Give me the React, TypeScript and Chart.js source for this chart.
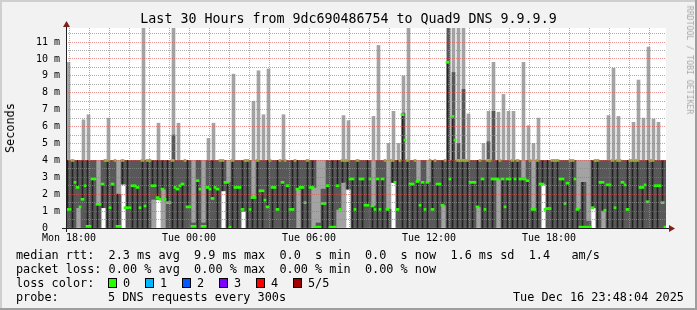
import React, { useEffect, useRef } from "react";
import { Chart, registerables } from "chart.js";

Chart.register(...registerables);

// ---------- text ----------
const TITLE = "Last 30 Hours from 9dc690486754 to Quad9 DNS 9.9.9.9";
const Y_AXIS_TITLE = "Seconds";
const WATERMARK = "RRDTOOL / TOBI OETIKER";
const TIME_LABELS = ["Mon 18:00", "Tue 00:00", "Tue 06:00", "Tue 12:00", "Tue 18:00"];
const STAT_LINES = [
  "median rtt:  2.3 ms avg  9.9 ms max  0.0  s min  0.0  s now  1.6 ms sd  1.4   am/s",
  "packet loss: 0.00 % avg  0.00 % max  0.00 % min  0.00 % now",
];
const LOSS_TITLE = "loss color:";
const LOSS_LABELS = ["0", "1", "2", "3", "4", "5/5"];
const LOSS_COLORS = ["#26ff00", "#00b8ff", "#0059ff", "#7e00ff", "#ff0000", "#a00000"];
const PROBE_TITLE = "probe:";
const PROBE_TEXT = "5 DNS requests every 300s";
const TIMESTAMP = "Tue Dec 16 23:48:04 2025";

// ---------- time axis (minutes since graph start) ----------
const STEP_MINUTES = 15;
const SPAN_MINUTES = 1800;
const FIRST_HOUR_MINUTES = 9; // Mon 18:00
const Y_MAX_MS = 11.83;
const BAND_TOP_MS = 4; // level where most samples saturate; above it only short outliers

// ---------- data: one entry per 15-minute step (ms) ----------
const MAX_MS = [
  9.8, 4, 4, 6.4, 6.7, 4, 4, 4, 6.5, 4,
  4, 4, 4, 4, 4, 12, 4, 4, 6.2, 4,
  4, 12, 6.2, 4, 4, 4, 4, 4, 5.3, 6.2,
  4, 4, 4, 9.1, 4, 4, 4, 7.5, 9.3, 6.7,
  9.4, 4, 4, 6.7, 4, 4, 4, 4, 4, 4,
  4, 4, 4, 4, 4, 6.65, 6.35, 4, 4, 4,
  4, 6.6, 10.8, 4, 5.0, 6.9, 5.0, 9.0, 12, 4,
  4, 4, 4, 4, 4, 4, 12, 12, 12, 12,
  6.75, 4, 4, 5.0, 6.9, 9.8, 6.85, 7.9, 6.9, 6.9,
  4, 9.8, 6.05, 5.0, 6.5, 4, 4, 4, 4, 4,
  4, 4, 4, 4, 4, 4, 4, 4, 6.65, 9.45,
  6.6, 4, 4, 6.25, 8.75, 6.5, 10.7, 6.45, 6.25, 4,
];
const HI_MS = [
  4, 4, 4, 4, 4, 4, 1.4, 4, 4, 4,
  2.0, 4, 4, 4, 4, 4, 4, 4, 4, 4,
  4, 5.5, 4, 4, 4, 0.3, 4, 0.3, 4, 4,
  4, 4, 2.7, 4, 4, 4, 4, 1.8, 4, 4,
  4, 4, 4, 4, 4, 4, 4, 4, 4, 4,
  0.3, 2.3, 4, 4, 4, 4, 4, 4, 4, 4,
  4, 1.3, 4, 4, 1.1, 4, 4, 6.8, 4, 4,
  2.75, 4, 2.7, 4, 4, 4, 12, 9.2, 5.0, 8.2,
  4, 4, 4, 4, 5.1, 6.9, 4, 4, 4, 4,
  4, 2.9, 4, 1.1, 4, 4, 4, 4, 4, 4,
  4, 4, 1.1, 2.7, 0.4, 4, 4, 4, 4, 4,
  4, 4, 4, 4, 4, 4, 4, 4, 4, 4,
];
const LO_MS = [
  0, 0, 1.2, 0, 0, 0, 0, 1.2, 0, 0,
  0, 2.6, 0, 0, 0, 0, 0, 1.7, 1.7, 2.3,
  0, 0, 0, 0, 0, 0, 0, 0, 0, 0,
  0, 2.2, 0, 0, 0, 1.0, 0, 0, 0, 0,
  0, 0, 0, 0, 0, 0, 2.3, 0, 0, 2.4,
  0, 0, 0, 0, 1.1, 2.7, 2.3, 0, 0, 0,
  0, 0, 0, 0, 0, 2.7, 0, 0, 0, 0,
  0, 0, 0, 0, 0, 1.35, 0, 0, 0, 0,
  0, 0, 1.25, 0, 0, 0, 2.9, 0, 0, 0,
  0, 0, 0, 0, 0, 2.6, 0, 0, 0, 0,
  0, 0, 0, 0, 0, 1.2, 0, 1.05, 0, 0,
  0, 0, 0, 0, 0, 0, 0, 0, 0, 0,
];
const MIN_MS = [
  0, 0, 0, 0, 0, 0, 0, 1.2, 0, 0,
  0, 2.6, 0, 0, 0, 0, 0, 0, 1.7, 0,
  0, 0, 0, 0, 0, 0, 0, 0, 0, 0,
  0, 2.2, 0, 0, 0, 1.0, 0, 0, 0, 0,
  0, 0, 0, 0, 0, 0, 0, 0, 0, 0,
  0, 0, 0, 0, 0, 0, 2.3, 0, 0, 0,
  0, 0, 0, 0, 0, 2.7, 0, 0, 0, 0,
  0, 0, 0, 0, 0, 0, 0, 0, 0, 0,
  0, 0, 0, 0, 0, 0, 0, 0, 0, 0,
  0, 0, 0, 0, 0, 2.6, 0, 0, 0, 0,
  0, 0, 0, 0, 0, 1.2, 0, 0, 0, 0,
  0, 0, 0, 0, 0, 0, 0, 0, 0, 0,
];
// median of the first and of the second half of each step
const MEDIAN_A_MS = [
  1.1, 4.0, 2.4, 1.7, 0.1, 2.9, 1.4, 2.6, 4.0, 2.6,
  0.1, 4.0, 1.2, 2.5, 2.4, 4.0, 4.0, 2.5, 1.8, 2.3,
  1.5, 4.0, 2.3, 2.6, 1.25, 0.1, 2.8, 0.1, 2.4, 1.75,
  2.3, 4.0, 2.7, 4.0, 2.4, 1.1, 4.0, 1.8, 4.0, 2.2,
  1.25, 2.4, 1.1, 2.7, 2.5, 1.1, 2.3, 2.4, 4.0, 2.4,
  0.05, 1.45, 2.5, 0.05, 2.5, 4.0, 4.0, 2.9, 4.0, 2.9,
  1.35, 1.3, 2.9, 2.9, 1.1, 4.0, 1.1, 6.7, 4.0, 2.6,
  2.75, 2.7, 2.7, 1.1, 2.6, 1.35, 9.8, 6.6, 4.0, 4.0,
  4.0, 2.7, 1.25, 2.9, 4.0, 2.9, 2.9, 2.9, 2.9, 4.0,
  4.0, 2.9, 2.8, 1.1, 4.0, 2.6, 1.15, 4.0, 4.0, 2.9,
  2.65, 4.0, 1.1, 0.05, 0.05, 1.2, 4.0, 2.7, 2.55, 4.0,
  4.0, 2.7, 1.1, 4.0, 4.0, 2.4, 1.55, 4.0, 2.5, 1.5,
];
const MEDIAN_B_MS = [
  1.1, 2.7, 1.25, 2.5, 0.1, 2.9, 1.4, 4.0, 1.2, 4.0,
  0.1, 1.2, 1.2, 2.5, 1.2, 1.3, 4.0, 2.5, 1.7, 1.7,
  1.5, 2.4, 2.5, 4.0, 1.25, 0.1, 2.3, 0.1, 2.3, 2.4,
  4.0, 2.7, 0.05, 2.4, 2.4, 4.0, 1.1, 1.8, 2.2, 1.65,
  4.0, 2.4, 4.0, 4.0, 1.1, 4.0, 2.4, 1.5, 2.4, 0.05,
  0.05, 1.45, 0.05, 0.05, 1.1, 4.0, 2.9, 1.1, 2.9, 1.35,
  2.9, 1.1, 1.1, 4.0, 4.0, 2.7, 4.0, 5.2, 2.6, 4.0,
  1.35, 1.1, 4.0, 4.0, 2.6, 4.0, 2.9, 5.2, 4.0, 4.0,
  2.7, 2.7, 4.0, 1.1, 4.0, 2.9, 4.0, 1.25, 2.9, 2.9,
  2.9, 2.9, 4.0, 1.1, 2.6, 1.1, 1.15, 4.0, 2.9, 1.45,
  4.0, 2.9, 0.05, 0.05, 0.05, 4.0, 2.7, 1.05, 2.55, 1.2,
  4.0, 2.55, 4.0, 4.0, 2.4, 2.55, 4.0, 2.5, 2.5, 0.05,
];

// ---------- styles ----------
const MONO = "'DejaVu Sans Mono', 'Liberation Mono', monospace";
const BG = "#f2f2f2";
const MAJOR_GRID = "rgba(222,79,79,0.6)";
const MINOR_GRID = "rgba(143,143,143,0.75)";
const LIGHT_SMOKE = "#a3a3a3";
const DARK_SMOKE = "#585858";
const CORE = "#222222";
const MEDIAN_GREEN = "#26ff00";

const rrdFrame = {
  id: "rrdFrame",
  beforeDraw(chart: any) {
    const { ctx, width, height, chartArea: a } = chart;
    ctx.save();
    ctx.fillStyle = BG;
    ctx.fillRect(0, 0, width, height);
    ctx.fillStyle = "#cfcfcf";
    ctx.fillRect(0, 0, width, 2);
    ctx.fillRect(0, 0, 2, height);
    ctx.fillStyle = "#9e9e9e";
    ctx.fillRect(0, height - 2, width, 2);
    ctx.fillRect(width - 2, 0, 2, height);
    ctx.fillStyle = "#ffffff";
    ctx.fillRect(a.left, a.top, a.right - a.left, a.bottom - a.top);
    ctx.restore();
  },
  afterDraw(chart: any) {
    const { ctx, chartArea: a } = chart;
    ctx.save();
    ctx.strokeStyle = "#1f1f1f";
    ctx.lineWidth = 1;
    ctx.beginPath();
    ctx.moveTo(a.left - 4, a.bottom + 0.5);
    ctx.lineTo(a.right + 4, a.bottom + 0.5);
    ctx.moveTo(a.left + 0.5, a.bottom + 4);
    ctx.lineTo(a.left + 0.5, a.top - 3);
    ctx.stroke();
    ctx.fillStyle = "#801f1f";
    ctx.beginPath();
    ctx.moveTo(a.right + 3, a.bottom + 0.5 - 3.5);
    ctx.lineTo(a.right + 9, a.bottom + 0.5);
    ctx.lineTo(a.right + 3, a.bottom + 0.5 + 3.5);
    ctx.closePath();
    ctx.fill();
    ctx.beginPath();
    ctx.moveTo(a.left + 0.5 - 3.5, a.top - 1);
    ctx.lineTo(a.left + 0.5, a.top - 7);
    ctx.lineTo(a.left + 0.5 + 3.5, a.top - 1);
    ctx.closePath();
    ctx.fill();
    ctx.restore();
  },
};

export default function App() {
  const ref = useRef<HTMLCanvasElement>(null);

  useEffect(() => {
    const canvas = ref.current;
    if (!canvas) return;
    const stepStart = MAX_MS.map((_, i) => i * STEP_MINUTES);
    const center = (i: number) => stepStart[i] + STEP_MINUTES / 2;
    const posA = (i: number) => stepStart[i] + 4.5; // first half of the step
    const posB = (i: number) => stepStart[i] + 12; // second half of the step
    const posCore = (i: number) => stepStart[i] + 4.5;

    // lower band (full step width)
    const outerBand = stepStart.map((_, i) => ({ x: center(i), y: [MIN_MS[i], Math.min(MAX_MS[i], BAND_TOP_MS)] }));
    const innerBand = stepStart
      .map((_, i) => ({ x: center(i), y: [Math.min(LO_MS[i], BAND_TOP_MS), Math.min(HI_MS[i], BAND_TOP_MS)] }))
      .filter((p) => p.y[1] > p.y[0]);
    // short outliers above the band (narrow)
    const outerSpikes = stepStart
      .map((_, i) => ({ x: center(i), y: [BAND_TOP_MS, MAX_MS[i]] }))
      .filter((p) => p.y[1] > p.y[0]);
    const innerSpikes = stepStart
      .map((_, i) => ({ x: center(i), y: [BAND_TOP_MS, HI_MS[i]] }))
      .filter((p) => p.y[1] > p.y[0]);

    const core: any[] = [];
    MEDIAN_A_MS.forEach((m, i) => {
      const lo = LO_MS[i];
      const hi = Math.min(HI_MS[i], Math.max(BAND_TOP_MS, m));
      if (hi - lo >= 1) {
        const far = hi - m >= m - lo ? hi : lo;
        if (Math.abs(far - m) > 0.2) core.push({ x: posCore(i), y: [Math.min(m, far), Math.max(m, far)] });
      }
    });
    const medA = MEDIAN_A_MS.map((m, i) => ({ x: posA(i), y: [m - 0.06, m + 0.06] }));
    const medB = MEDIAN_B_MS.map((m, i) => ({ x: posB(i), y: [m - 0.06, m + 0.06] }));

    const hourTicks: number[] = [];
    for (let v = FIRST_HOUR_MINUTES; v < SPAN_MINUTES; v += 60) hourTicks.push(v);
    const yTicks: number[] = [];
    for (let v = 0; v <= Y_MAX_MS; v += 0.5) yTicks.push(v);

    const barCommon = {
      grouped: false,
      borderWidth: 0,
      borderSkipped: false,
    };

    const chart = new Chart(canvas, {
      type: "bar",
      data: {
        datasets: [
          { ...barCommon, label: "outer", data: outerBand as any, backgroundColor: LIGHT_SMOKE, barThickness: 5, order: 9 },
          { ...barCommon, label: "outer spikes", data: outerSpikes as any, backgroundColor: LIGHT_SMOKE, barThickness: 3, order: 8 },
          { ...barCommon, label: "inner", data: innerBand as any, backgroundColor: DARK_SMOKE, barThickness: 5, order: 7 },
          { ...barCommon, label: "inner spikes", data: innerSpikes as any, backgroundColor: DARK_SMOKE, barThickness: 3, order: 6 },
          { ...barCommon, label: "core", data: core as any, backgroundColor: CORE, barThickness: 1, order: 5 },
          { ...barCommon, label: "median A", data: medA as any, backgroundColor: MEDIAN_GREEN, barThickness: 3, order: 1 },
          { ...barCommon, label: "median B", data: medB as any, backgroundColor: MEDIAN_GREEN, barThickness: 2, order: 0 },
        ] as any,
      },
      options: {
        animation: false,
        responsive: false,
        devicePixelRatio: 1,
        layout: { padding: { left: 0, right: 31, top: 28, bottom: 0 } },
        plugins: {
          legend: { display: false },
          tooltip: { enabled: false },
          title: { display: false },
        },
        scales: {
          x: {
            type: "linear",
            min: 0,
            max: SPAN_MINUTES,
            offset: false,
            afterBuildTicks: (scale: any) => {
              scale.ticks = hourTicks.map((value) => ({ value }));
            },
            afterFit: (scale: any) => {
              scale.height = 82;
            },
            grid: {
              z: 1,
              offset: false,
              drawTicks: false,
              lineWidth: 1,
              color: (ctx: any) => {
                const k = Math.round((ctx.tick.value - FIRST_HOUR_MINUTES) / 60);
                return k % 3 === 0 ? MAJOR_GRID : MINOR_GRID;
              },
            } as any,
            border: { display: false, dash: [1, 1] },
            ticks: {
              autoSkip: false,
              maxRotation: 0,
              minRotation: 0,
              padding: 4,
              color: "#000",
              font: { family: MONO, size: 10 },
              callback: (value: any) => {
                const k = Math.round((Number(value) - FIRST_HOUR_MINUTES) / 60);
                return k % 6 === 0 ? TIME_LABELS[k / 6] ?? "" : "";
              },
            },
          },
          y: {
            type: "linear",
            min: 0,
            max: Y_MAX_MS,
            afterBuildTicks: (scale: any) => {
              scale.ticks = yTicks.map((value) => ({ value }));
            },
            afterFit: (scale: any) => {
              scale.width = 66;
            },
            grid: {
              z: 1,
              drawTicks: false,
              lineWidth: 1,
              color: (ctx: any) => (Number.isInteger(ctx.tick.value) ? MAJOR_GRID : MINOR_GRID),
            } as any,
            border: { display: false, dash: [1, 1] },
            ticks: {
              autoSkip: false,
              padding: 6,
              color: "#000",
              font: { family: MONO, size: 10 },
              callback: (value: any) => {
                const v = Number(value);
                if (!Number.isInteger(v)) return "";
                return v === 0 ? "0  " : `${v} m`;
              },
            },
          },
        },
      } as any,
      plugins: [rrdFrame],
    });
    return () => chart.destroy();
  }, []);

  const rowTop = (r: number) => 248 + r * 14;
  const textStyle: React.CSSProperties = {
    position: "absolute",
    fontFamily: MONO,
    fontSize: "11.84px",
    lineHeight: "14px",
    whiteSpace: "pre",
    color: "#000",
  };

  return (
    <div style={{ position: "absolute", left: 0, top: 0, width: 697, height: 310, overflow: "hidden", background: BG }}>
      <canvas ref={ref} width={697} height={310} style={{ position: "absolute", left: 0, top: 0, width: 697, height: 310 }} />
      <div
        style={{
          ...textStyle,
          left: 348.5,
          top: 19,
          fontSize: "13.3px",
          lineHeight: "16px",
          transform: "translate(-50%, -50%)",
        }}
      >
        {TITLE}
      </div>
      <div
        style={{
          ...textStyle,
          left: 10,
          top: 127.5,
          transform: "translate(-50%, -50%) rotate(-90deg)",
        }}
      >
        {Y_AXIS_TITLE}
      </div>
      <div
        style={{
          ...textStyle,
          left: 690,
          top: 60,
          fontSize: "8.2px",
          lineHeight: "10px",
          color: "#a8a8a8",
          transform: "translate(-50%, -50%) rotate(90deg)",
        }}
      >
        {WATERMARK}
      </div>
      {STAT_LINES.map((line, r) => (
        <div key={r} style={{ ...textStyle, left: 16, top: rowTop(r) }}>
          {line}
        </div>
      ))}
      <div style={{ ...textStyle, left: 16, top: rowTop(2) }}>{LOSS_TITLE}</div>
      {LOSS_LABELS.map((lab, k) => (
        <React.Fragment key={lab}>
          <div
            style={{
              position: "absolute",
              left: 108 + 37 * k,
              top: rowTop(2) + 2,
              width: 7,
              height: 8,
              background: LOSS_COLORS[k],
              border: "1px solid #000",
            }}
          />
          <div style={{ ...textStyle, left: 123 + 37 * k, top: rowTop(2) }}>{lab}</div>
        </React.Fragment>
      ))}
      <div style={{ ...textStyle, left: 16, top: rowTop(3) }}>{PROBE_TITLE}</div>
      <div style={{ ...textStyle, left: 108, top: rowTop(3) }}>{PROBE_TEXT}</div>
      <div style={{ ...textStyle, left: 513, top: rowTop(3) }}>{TIMESTAMP}</div>
    </div>
  );
}
